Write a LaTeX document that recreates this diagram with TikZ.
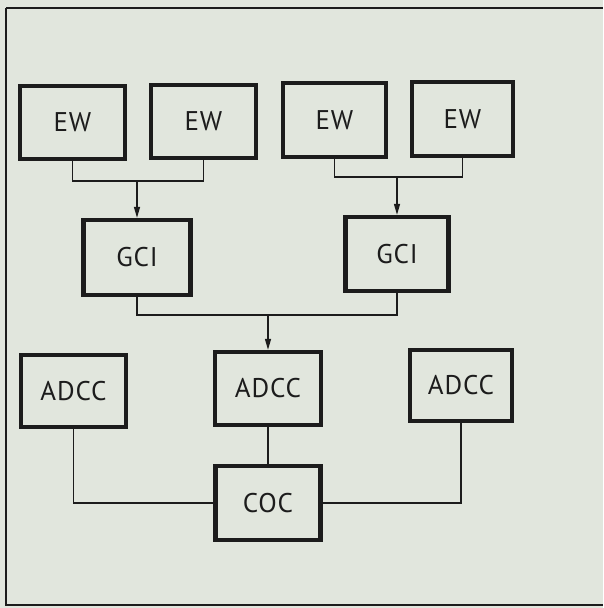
\documentclass[tikz,border=0pt]{standalone}
\usepackage{fontspec}
\setmainfont{PT Sans}[LetterSpace=3]
\usetikzlibrary{arrows.meta}
\definecolor{bg}{HTML}{E1E6DD}
\definecolor{ink}{HTML}{1C1C1C}
\tikzset{
  blk/.style={draw=ink, line width=4.3pt, fill=bg, inner sep=0pt, text=ink, font=\fontsize{27}{29}\selectfont},
  wire/.style={draw=ink, line width=1.3pt},
  arr/.style={wire, -{Triangle[length=11pt,width=6pt]}},
}
\begin{document}
\begin{tikzpicture}[x=1pt,y=-1pt]
\useasboundingbox (0,0) rectangle (603,608);
\fill[bg] (0,0) rectangle (603,608);
% frame
\draw[ink, line width=1.8pt] (6,8) -- (603,8);
\draw[ink, line width=1.2pt] (6,8) -- (6,605) -- (603,605);
% EW row
\node[blk, minimum width=105pt, minimum height=73pt] (ew1) at (72.5,122.5) {EW};
\node[blk, minimum width=105pt, minimum height=73pt] (ew2) at (203.5,121.5) {EW};
\node[blk, minimum width=103pt, minimum height=74pt] (ew3) at (334.5,120) {EW};
\node[blk, minimum width=101pt, minimum height=74pt] (ew4) at (462.5,119) {EW};
% GCI row
\node[blk, minimum width=107pt, minimum height=75pt] (gci1) at (137,257.5) {GCI};
\node[blk, minimum width=103pt, minimum height=74pt] (gci2) at (397,254) {GCI};
% ADCC row
\node[blk, minimum width=105pt, minimum height=72pt] (adcc1) at (73.5,391) {ADCC};
\node[blk, minimum width=106pt, minimum height=73pt] (adcc2) at (268,388.5) {ADCC};
\node[blk, minimum width=102pt, minimum height=71pt] (adcc3) at (461,385.5) {ADCC};
% COC
\node[blk, minimum width=105pt, minimum height=74pt] (coc) at (268,503) {COC};
% junctions
\coordinate (j1) at (137,181);
\coordinate (j2) at (397,177);
\coordinate (j3) at (268,315);
% connectors
\draw[wire] (ew1.south) |- (j1) -| (ew2.south);
\draw[arr] (j1) -- (gci1.north);
\draw[wire] (ew3.south) |- (j2) -| (ew4.south);
\draw[arr] (j2) -- (gci2.north);
\draw[wire] (gci1.south) |- (j3) -| (gci2.south);
\draw[arr] (j3) -- (adcc2.north);
\draw[wire] (adcc1.south) |- (coc.west);
\draw[wire] (adcc2.south) -- (coc.north);
\draw[wire] (adcc3.south) |- (coc.east);
\end{tikzpicture}
\end{document}
